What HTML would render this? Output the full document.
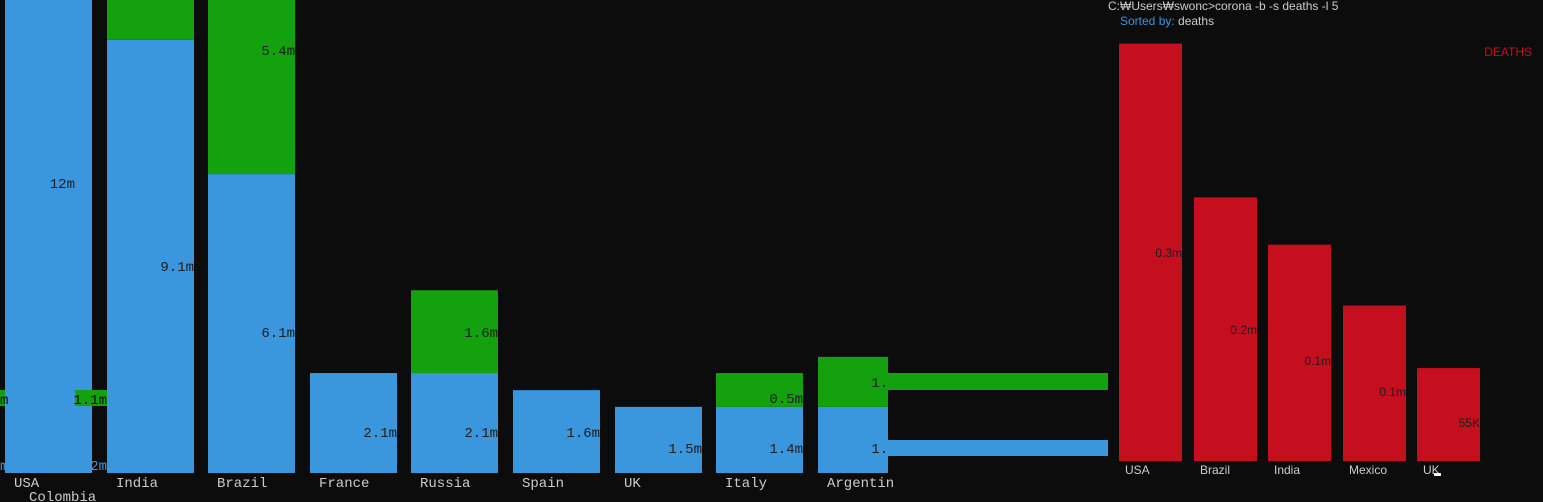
<!DOCTYPE html>
<html><head><meta charset="utf-8"><style>
html,body{margin:0;padding:0;background:#0c0c0c;width:1543px;height:502px;overflow:hidden}
svg{display:block}
.t{font-family:"Liberation Mono",monospace;font-size:14px}
.r{font-family:"Liberation Sans","Noto Sans CJK KR",sans-serif;font-size:12px}
</style></head><body>
<svg id="c" width="1543" height="502">
<g id="bars"></g>
<rect x="888" y="373" width="220" height="17" fill="#13a10e"/>
<rect x="888" y="440" width="220" height="16" fill="#3a96dd"/>
<rect x="0" y="390" width="5" height="16" fill="#13a10e"/>
<rect x="92" y="0" width="15" height="473" fill="#0c0c0c"/>
<rect x="75" y="390" width="32" height="16" fill="#13a10e"/>
<text x="1108" y="10" class="r" fill="#cccccc">C:₩Users₩swonc&gt;corona -b -s deaths -l 5</text>
<text x="1120" y="25" class="r" fill="#cccccc"><tspan fill="#3a96dd">Sorted by:</tspan> deaths</text>
<text x="1532" y="56" class="r" fill="#c50f1f" text-anchor="end">DEATHS</text>
<text x="0" y="404" class="t" fill="#0c0c0c">m</text>
<text x="107" y="404" class="t" fill="#0c0c0c" text-anchor="end">1.1m</text>
<text x="0" y="470" class="t" fill="#3a96dd">m</text>
<text x="107" y="470" class="t" fill="#3a96dd" text-anchor="end">1.2m</text>
<text x="29" y="501" class="t" fill="#cccccc">Colombia</text>
</svg>
<script>
const categories=["USA","India","Brazil","France","Russia","Spain","UK","Italy","Argentin"];
const blueVals=[12,9.1,6.28,2.1,2.1,1.74,1.39,1.39,1.39];
const greenVals=[0,0.86,5.4,0,1.74,0,0,0.71,1.05];
const blueLabels=["12m","9.1m","6.1m","2.1m","2.1m","1.6m","1.5m","1.4m","1."];
const greenLabels=["","","5.4m","","1.6m","","","0.5m","1."];
const dCategories=["USA","Brazil","India","Mexico","UK"];
const deathVals=[0.247,0.156,0.128,0.092,0.055];
const deathLabels=["0.3m","0.2m","0.1m","0.1m","55K"];
const svg=document.getElementById('bars');
const NS="http://www.w3.org/2000/svg";
function mk(tag,attrs){const e=document.createElementNS(NS,tag);for(const k in attrs)e.setAttribute(k,attrs[k]);svg.appendChild(e);return e;}
const base=473, ppm=47.6;
const yL=v=>base-v*ppm;
const xL=i=>5+i*101.6;
categories.forEach((c,i)=>{
  const x=Math.round(xL(i)); const w=i===8?70:87;
  const bTop=Math.max(0,yL(blueVals[i]));
  const b=mk('rect',{x:x,y:bTop,width:w,height:base-bTop,fill:'#3a96dd'});
  
  
  if(greenVals[i]>0){
    const gTop=Math.max(0,yL(blueVals[i]+greenVals[i]));
    const g=mk('rect',{x:x,y:gTop,width:w,height:bTop-gTop,fill:'#13a10e'});
    
    
  }
  const bl=mk('text',{x:i===0?x+70:x+w,y:i===0?188:(i===1?271:(i===2?337:(i>=6?453:437))),'text-anchor':'end',class:'t',fill:'#1e1e1e'});
  bl.textContent=blueLabels[i];
  
  
  if(greenLabels[i]){
    const gy=i===2?55:(i===4?337:(i===7?403:387));
    const gl=mk('text',{x:x+w,y:gy,'text-anchor':'end',class:'t',fill:'#1e1e1e'});
    gl.textContent=greenLabels[i];
    
    
  }
  const xl=mk('text',{x:x+9,y:487,class:'t',fill:'#cccccc'});
  xl.textContent=c;
  
  
});
const dBase=461, dppm=1690;
const yR=v=>dBase-v*dppm;
const xR=i=>1119+i*74.5;
const dLabelY=[257,334,365,396,427];
dCategories.forEach((c,i)=>{
  const x=Math.round(xR(i));
  const r=mk('rect',{x:x,y:yR(deathVals[i]),width:63,height:deathVals[i]*dppm,fill:'#c50f1f'});
  
  
  const l=mk('text',{x:x+63,y:dLabelY[i],'text-anchor':'end',class:'r',fill:'#1e1e1e'});
  l.textContent=deathLabels[i];
  
  
  const xl=mk('text',{x:x+6,y:474,class:'r',fill:'#cccccc'});
  xl.textContent=c;
  
  
});
const cur=mk('rect',{x:1434,y:473,width:7,height:3,fill:'#ffffff'});


</script>
</body></html>
